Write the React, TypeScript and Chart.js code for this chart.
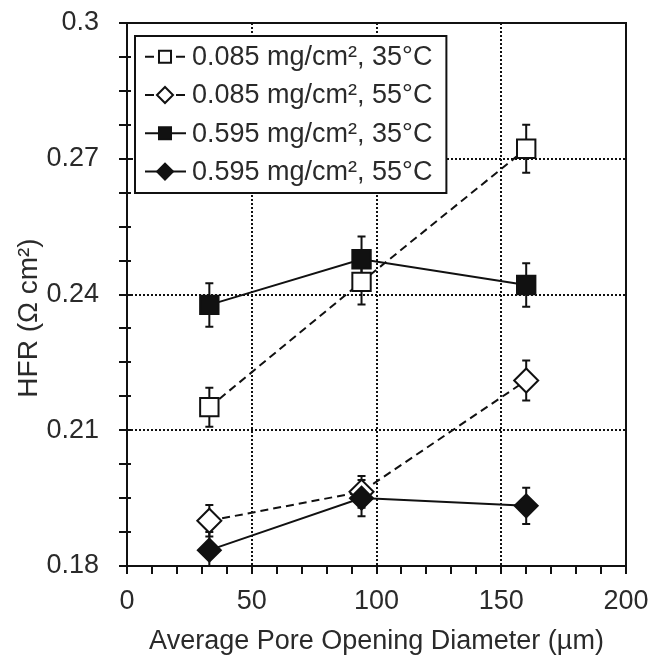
import React, { useEffect, useRef } from "react";
import { Chart, registerables } from "chart.js";
Chart.register(...registerables);

// ---- data ----
const poreDiameters = [33, 94, 160];
const seriesLabels = [
  "0.085 mg/cm², 35°C",
  "0.085 mg/cm², 55°C",
  "0.595 mg/cm², 35°C",
  "0.595 mg/cm², 55°C",
];
const hfrLow35 = [0.2151, 0.2428, 0.2722];
const errLow35 = [0.0043, 0.005, 0.0053];
const hfrLow55 = [0.19, 0.1964, 0.221];
const errLow55 = [0.0035, 0.0035, 0.0044];
const hfrHigh35 = [0.2377, 0.2478, 0.2421];
const errHigh35 = [0.0048, 0.005, 0.0048];
const hfrHigh55 = [0.1835, 0.195, 0.1933];
const errHigh55 = [0.004, 0.004, 0.004];
const xTickLabels = [0, 50, 100, 150, 200];
const yTickLabels = [0.18, 0.21, 0.24, 0.27, 0.3];
const xTitle = "Average Pore Opening Diameter (µm)";
const yTitle = "HFR (Ω cm²)";

const FONT = "'Liberation Sans', Arial, Helvetica, sans-serif";
const TEXT = "#2a2a2a";
const INK = "#111";

const seriesValues = [hfrLow35, hfrLow55, hfrHigh35, hfrHigh55];
const seriesErrors = [errLow35, errLow55, errHigh35, errHigh55];
const seriesStyle = [
  { point: "rect", fill: "#fff", dash: [8, 5], r: 13, lr: 8.5 },
  { point: "rectRot", fill: "#fff", dash: [8, 5], r: 12, lr: 8 },
  { point: "rect", fill: INK, dash: [], r: 13, lr: 8.5 },
  { point: "rectRot", fill: INK, dash: [], r: 11.5, lr: 8 },
];

const isMajorY = (v: number) => yTickLabels.some((t) => Math.abs(t - v) < 1e-6);
const isMajorX = (v: number) => xTickLabels.some((t) => Math.abs(t - v) < 1e-6);

const customPlugin = {
  id: "customDecor",
  beforeDatasetsDraw(chart: any) {
    const { ctx, chartArea: a, scales } = chart;
    const x = scales.x;
    const y = scales.y;
    ctx.save();
    // dotted grid lines at inner majors
    ctx.strokeStyle = INK;
    ctx.lineWidth = 2;
    ctx.setLineDash([2, 2]);
    for (const v of xTickLabels) {
      if (v === x.min || v === x.max) continue;
      const px = Math.round(x.getPixelForValue(v));
      ctx.beginPath();
      ctx.moveTo(px, a.top);
      ctx.lineTo(px, a.bottom);
      ctx.stroke();
    }
    for (const v of yTickLabels) {
      if (Math.abs(v - y.min) < 1e-9 || Math.abs(v - y.max) < 1e-9) continue;
      const py = Math.round(y.getPixelForValue(v));
      ctx.beginPath();
      ctx.moveTo(a.left, py);
      ctx.lineTo(a.right, py);
      ctx.stroke();
    }
    ctx.setLineDash([]);
    // frame
    ctx.lineWidth = 2;
    ctx.strokeRect(Math.round(a.left), Math.round(a.top), Math.round(a.right - a.left), Math.round(a.bottom - a.top));
    // tick marks
    for (const t of x.ticks) {
      const px = Math.round(x.getPixelForValue(t.value));
      ctx.beginPath();
      ctx.moveTo(px, a.bottom);
      ctx.lineTo(px, a.bottom + 8);
      ctx.stroke();
    }
    for (const t of y.ticks) {
      const py = Math.round(y.getPixelForValue(t.value));
      ctx.beginPath();
      ctx.moveTo(a.left - 8, py);
      ctx.lineTo(a.left + 4, py);
      ctx.stroke();
    }
    // error bars
    ctx.save();
    ctx.beginPath();
    ctx.rect(a.left, a.top, a.right - a.left, a.bottom - a.top);
    ctx.clip();
    ctx.lineWidth = 2;
    seriesValues.forEach((vals, i) => {
      vals.forEach((v, j) => {
        const e = seriesErrors[i][j];
        const px = x.getPixelForValue(poreDiameters[j]);
        const pt = y.getPixelForValue(v + e);
        const pb = y.getPixelForValue(v - e);
        ctx.beginPath();
        ctx.moveTo(px, pt);
        ctx.lineTo(px, pb);
        ctx.moveTo(px - 4, pt);
        ctx.lineTo(px + 4, pt);
        ctx.moveTo(px - 4, pb);
        ctx.lineTo(px + 4, pb);
        ctx.stroke();
      });
    });
    ctx.restore();
    ctx.restore();
  },
  afterDatasetsDraw(chart: any) {
    const { ctx, chartArea: a } = chart;
    ctx.save();
    // legend
    ctx.font = `27px ${FONT}`;
    const boxL = 135;
    const boxT = 36;
    const rowH = 38.3;
    const textX = 192;
    const maxW = Math.max(...seriesLabels.map((s) => ctx.measureText(s).width));
    const boxW = textX + maxW + 14 - boxL;
    const boxH = 157;
    ctx.fillStyle = "#fff";
    ctx.fillRect(boxL, boxT, boxW, boxH);
    ctx.strokeStyle = INK;
    ctx.lineWidth = 2;
    ctx.strokeRect(boxL, boxT, boxW, boxH);
    seriesLabels.forEach((lab, i) => {
      const cy = boxT + 20.7 + i * rowH;
      const st = seriesStyle[i];
      const mx = 165;
      ctx.strokeStyle = INK;
      ctx.lineWidth = 2;
      ctx.beginPath();
      if (st.dash.length) {
        ctx.moveTo(145, cy);
        ctx.lineTo(154, cy);
        ctx.moveTo(176, cy);
        ctx.lineTo(185, cy);
      } else {
        ctx.moveTo(145, cy);
        ctx.lineTo(186, cy);
      }
      ctx.stroke();
      ctx.beginPath();
      if (st.point === "rect") {
        const h = st.lr * Math.SQRT1_2;
        ctx.rect(mx - h, cy - h, 2 * h, 2 * h);
      } else {
        const r = st.lr;
        ctx.moveTo(mx - r, cy);
        ctx.lineTo(mx, cy - r);
        ctx.lineTo(mx + r, cy);
        ctx.lineTo(mx, cy + r);
        ctx.closePath();
      }
      ctx.fillStyle = st.fill;
      ctx.fill();
      ctx.stroke();
      ctx.fillStyle = TEXT;
      ctx.textAlign = "left";
      ctx.textBaseline = "middle";
      ctx.fillText(lab, textX, cy + 1);
    });
    // axis titles
    ctx.fillStyle = TEXT;
    ctx.font = `27px ${FONT}`;
    ctx.textAlign = "center";
    ctx.textBaseline = "alphabetic";
    ctx.fillText(xTitle, (a.left + a.right) / 2, 649);
    ctx.save();
    ctx.translate(29, 318);
    ctx.rotate(-Math.PI / 2);
    ctx.font = `28px ${FONT}`;
    ctx.textBaseline = "middle";
    ctx.fillText(yTitle, 0, 0);
    ctx.restore();
    ctx.restore();
  },
};

export default function App() {
  const ref = useRef<HTMLCanvasElement | null>(null);
  useEffect(() => {
    if (!ref.current) return;
    const datasets = seriesLabels.map((label, i) => ({
      label,
      data: poreDiameters.map((xv, j) => ({ x: xv, y: seriesValues[i][j] })),
      showLine: true,
      borderColor: INK,
      borderWidth: 2,
      borderDash: seriesStyle[i].dash,
      pointStyle: seriesStyle[i].point,
      pointRadius: seriesStyle[i].r,
      pointHoverRadius: seriesStyle[i].r,
      pointBackgroundColor: seriesStyle[i].fill,
      pointBorderColor: INK,
      pointBorderWidth: 2,
      fill: false,
      tension: 0,
      clip: false,
      order: i < 2 ? 2 : 1,
    }));
    const chart = new Chart(ref.current, {
      type: "scatter",
      data: { datasets },
      plugins: [customPlugin],
      options: {
        responsive: false,
        animation: false,
        devicePixelRatio: 1,
        layout: { padding: { top: 23, right: 26, left: 0, bottom: 0 } },
        plugins: { legend: { display: false }, tooltip: { enabled: false } },
        scales: {
          x: {
            type: "linear",
            min: 0,
            max: 200,
            grid: { display: false, drawTicks: false },
            border: { display: false },
            ticks: {
              stepSize: 10,
              autoSkip: false,
              maxRotation: 0,
              padding: 19,
              color: TEXT,
              font: { family: FONT, size: 27 },
              callback: (v: any) => (isMajorX(Number(v)) ? String(v) : ""),
            },
            afterFit: (s: any) => {
              s.height = 90;
              s.paddingLeft = 0;
              s.paddingRight = 0;
            },
          },
          y: {
            type: "linear",
            min: 0.18,
            max: 0.3,
            grid: { display: false, drawTicks: false },
            border: { display: false },
            ticks: {
              stepSize: 0.0075,
              autoSkip: false,
              padding: 28,
              color: TEXT,
              font: { family: FONT, size: 27 },
              callback: (v: any) => (isMajorY(Number(v)) ? String(Number(Number(v).toFixed(2))) : ""),
            },
            afterFit: (s: any) => {
              s.width = 127;
              s.paddingTop = 0;
              s.paddingBottom = 0;
            },
          },
        },
      },
    });
    return () => chart.destroy();
  }, []);
  return (
    <div style={{ position: "absolute", left: 0, top: 0, width: 652, height: 656, background: "#fff" }}>
      <canvas ref={ref} width={652} height={656} style={{ width: 652, height: 656, display: "block" }} />
    </div>
  );
}
